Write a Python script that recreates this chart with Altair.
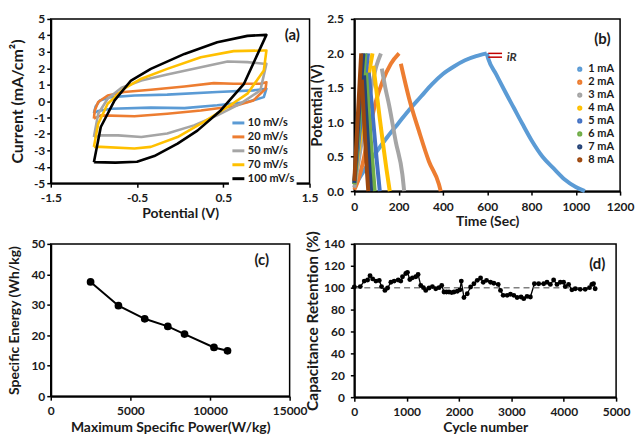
import altair as alt
import pandas as pd

FONT = "Lato"
INK = "#1a1a1a"

# ---------------- (a) cyclic voltammetry ----------------
cv_rates = ["10 mV/s", "20 mV/s", "50 mV/s", "70 mV/s", "100 mV/s"]
cv_colors = ["#5B9BD5", "#ED7D31", "#A5A5A5", "#FFC000", "#000000"]

cv10_v = [-1.0, -0.95, -0.80, -0.34, 0.05, 0.43, 0.78, 0.97, 1.0, 0.85, 0.43, -0.15, -0.53, -0.80, -0.93, -0.98, -1.0]
cv10_i = [-0.73, -0.60, -0.47, -0.40, -0.43, -0.26, -0.06, 0.24, 0.75, 0.65, 0.55, 0.39, 0.34, 0.24, 0.04, -0.33, -0.73]
cv20_v = [-1.0, -0.92, -0.53, -0.15, 0.24, 0.62, 0.85, 0.99, 1.0, 0.93, 0.62, 0.39, 0.05, -0.34, -0.65, -0.84, -0.95, -0.99, -1.0]
cv20_i = [-1.07, -0.87, -0.93, -0.77, -0.57, -0.32, 0.04, 0.75, 1.15, 1.05, 1.05, 1.09, 0.89, 0.69, 0.55, 0.34, -0.06, -0.57, -1.07]
cv50_v = [-1.0, -0.92, -0.72, -0.45, -0.15, 0.16, 0.43, 0.70, 0.93, 1.0, 0.97, 0.78, 0.55, 0.24, -0.15, -0.45, -0.68, -0.84, -0.95, -1.0]
cv50_i = [-2.19, -2.09, -2.09, -2.19, -1.98, -1.48, -0.87, -0.16, 0.65, 2.27, 2.27, 2.37, 2.41, 2.06, 1.62, 1.25, 0.81, 0.14, -0.77, -2.19]
cv70_v = [-1.0, -0.92, -0.53, -0.34, -0.03, 0.24, 0.55, 0.78, 0.97, 1.0, 0.97, 0.62, 0.24, -0.15, -0.45, -0.65, -0.84, -0.95, -1.0]
cv70_i = [-2.79, -2.79, -2.89, -2.79, -2.19, -1.38, -0.36, 0.45, 1.86, 3.08, 3.08, 3.04, 2.67, 1.96, 1.36, 0.75, -0.16, -1.38, -2.79]
cv100_v = [-1.0, -0.75, -0.50, -0.30, -0.03, 0.20, 0.47, 0.74, 1.0, 0.78, 0.43, 0.05, -0.34, -0.57, -0.76, -0.92, -1.0]
cv100_i = [-3.72, -3.75, -3.70, -3.35, -2.59, -1.80, -0.57, 1.05, 4.03, 3.97, 3.58, 2.87, 1.96, 1.25, 0.04, -1.58, -3.72]

# ---------------- (b) charge / discharge ----------------
gcd_labels = ["1 mA", "2 mA", "3 mA", "4 mA", "5 mA", "6 mA", "7 mA", "8 mA"]
gcd_colors = ["#5B9BD5", "#ED7D31", "#A5A5A5", "#FFC000", "#4472C4", "#70AD47", "#264478", "#9E480E"]

b1_ct = [0, 25, 50, 100, 150, 200, 250, 300, 350, 400, 450, 500, 550, 598]
b1_cv = [0.05, 0.20, 0.33, 0.57, 0.79, 0.99, 1.19, 1.37, 1.55, 1.70, 1.81, 1.90, 1.96, 2.00]
b1_dt = [598, 605, 640, 680, 720, 760, 800, 850, 900, 950, 1000, 1041]
b1_dv = [2.00, 1.92, 1.70, 1.45, 1.21, 0.97, 0.74, 0.50, 0.33, 0.17, 0.06, 0.0]
b2_ct = [0, 7, 37, 67, 97, 127, 165, 202]
b2_cv = [0.02, 0.07, 0.39, 0.87, 1.30, 1.59, 1.85, 2.00]
b2_dt = [210, 247, 292, 337, 382, 390]
b2_dv = [1.85, 1.35, 0.87, 0.43, 0.10, 0.0]
b3_ct = [0, 20, 40, 60, 80, 100, 120]
b3_cv = [0.05, 0.45, 0.85, 1.22, 1.55, 1.82, 2.00]
b3_dt = [124, 140, 157, 187, 217, 225]
b3_dv = [1.78, 1.50, 1.25, 0.72, 0.24, 0.0]
b4_ct = [0, 20, 40, 60, 82]
b4_cv = [0.10, 0.62, 1.12, 1.58, 2.00]
b4_dt = [86, 100, 115, 130, 145, 160]
b4_dv = [1.82, 1.45, 1.05, 0.68, 0.32, 0.0]
b5_ct = [0, 15, 30, 45, 62]
b5_cv = [0.10, 0.58, 1.05, 1.52, 2.00]
b5_dt = [65, 78, 90, 102, 115]
b5_dv = [1.72, 1.28, 0.85, 0.42, 0.0]
b6_ct = [0, 12, 25, 38, 50]
b6_cv = [0.10, 0.58, 1.08, 1.56, 2.00]
b6_dt = [53, 63, 73, 83, 92]
b6_dv = [1.72, 1.25, 0.80, 0.38, 0.0]
b7_ct = [0, 10, 20, 30, 41]
b7_cv = [0.12, 0.60, 1.08, 1.55, 2.00]
b7_dt = [44, 52, 60, 68, 76]
b7_dv = [1.68, 1.22, 0.78, 0.36, 0.0]
b8_ct = [0, 8, 16, 24, 31]
b8_cv = [0.15, 0.62, 1.10, 1.58, 2.00]
b8_dt = [34, 42, 50, 57, 63]
b8_dv = [1.62, 1.15, 0.68, 0.28, 0.0]

ir_t1 = [605, 605]
ir_t2 = [667, 667]
ir_v = [2.0, 1.945]
ir_label_t = [688]
ir_label_v = [1.95]

# ---------------- (c) Ragone ----------------
rag_power = [2500, 4250, 5900, 7350, 8400, 10250, 11100]
rag_energy = [37.5, 29.7, 25.4, 22.9, 20.4, 16.0, 14.9]

# ---------------- (d) cycling ----------------
cyc_n = [0, 114, 190, 254, 300, 350, 412, 476, 520, 584, 635, 698, 761, 838, 888, 920, 983, 1015,
         1060, 1110, 1174, 1218, 1269, 1320, 1364, 1428, 1491, 1555, 1618, 1669, 1713, 1760, 1808,
         1860, 1904, 1967, 2018, 2043, 2094, 2157, 2221, 2284, 2348, 2411, 2462, 2525, 2602, 2665,
         2748, 2792, 2843, 2919, 2982, 3046, 3109, 3185, 3236, 3299, 3363, 3439, 3521, 3617, 3680,
         3744, 3807, 3871, 3934, 3997, 4029, 4093, 4156, 4220, 4315, 4410, 4492, 4537, 4569, 4600]
cyc_ret = [100.6, 101, 106, 107, 111, 108, 106, 106.5, 101, 97.5, 99.7, 105, 106, 107, 106, 110, 113, 114,
           107.5, 109, 110, 112, 102, 100, 97.5, 99.7, 101, 99, 100, 102, 96, 96, 96,
           95.5, 96, 96.7, 98, 106, 91, 94.5, 100.6, 103.6, 106.7, 108.8, 105, 106.7, 105, 104,
           103, 97.5, 93, 93, 94, 93, 91, 91.5, 90, 92, 91.5, 103.6, 103.6, 103.6, 105,
           103, 107, 103, 105, 105, 101, 103, 98, 99, 98.5, 98.5, 100, 103, 103.6, 99]
ref_n1 = [0]
ref_n2 = [4600]
ref_level = [100]

# ---------------- panel tags ----------------
tag_a = (1.3, 4.0)
tag_b = (1120, 2.21)
tag_c = (13250, 44.6)
tag_d = (4640, 122)

# ================= build tables =================
rows = []
for rate, vs, cs in zip(cv_rates, [cv10_v, cv20_v, cv50_v, cv70_v, cv100_v],
                        [cv10_i, cv20_i, cv50_i, cv70_i, cv100_i]):
    for k, (v, c) in enumerate(zip(vs, cs)):
        rows.append({"rate": rate, "V": v, "I": c, "k": k})
df_a = pd.DataFrame(rows)

series_b = [(b1_ct, b1_cv, b1_dt, b1_dv), (b2_ct, b2_cv, b2_dt, b2_dv), (b3_ct, b3_cv, b3_dt, b3_dv),
            (b4_ct, b4_cv, b4_dt, b4_dv), (b5_ct, b5_cv, b5_dt, b5_dv), (b6_ct, b6_cv, b6_dt, b6_dv),
            (b7_ct, b7_cv, b7_dt, b7_dv), (b8_ct, b8_cv, b8_dt, b8_dv)]
rows = []
for lab, (ct, cv, dt, dv) in zip(gcd_labels, series_b):
    for t, v in zip(ct, cv):
        rows.append({"cur": lab, "seg": lab + " c", "t": t, "V": v})
    for t, v in zip(dt, dv):
        rows.append({"cur": lab, "seg": lab + " d", "t": t, "V": v})
df_b = pd.DataFrame(rows)
df_ir = pd.DataFrame({"t1": ir_t1, "t2": ir_t2, "V": ir_v})
df_irl = pd.DataFrame({"t": ir_label_t, "V": ir_label_v, "txt": ["iR"]})

df_c = pd.DataFrame({"P": rag_power, "E": rag_energy})
df_d = pd.DataFrame({"n": cyc_n, "R": cyc_ret})
df_ref = pd.DataFrame({"n1": ref_n1, "n2": ref_n2, "R": ref_level})


def tag(label, xy):
    return alt.Chart(pd.DataFrame({"x": [xy[0]], "y": [xy[1]], "t": [label]})).mark_text(
        font=FONT, fontSize=15, fontWeight="bold", color=INK, align="center", baseline="middle"
    ).encode(x=alt.X("x:Q"), y=alt.Y("y:Q"), text="t:N")


AX = dict(labelFont=FONT, labelFontSize=12, labelFontWeight="bold", labelColor=INK,
          titleFont=FONT, titleFontWeight="bold", titleColor=INK,
          grid=False, domainColor="black", domainWidth=2, tickColor="black", tickWidth=1.5, tickSize=4,
          labelOverlap=False, labelFlush=False, tickCount=40)

# ---------- (a) ----------
xa = alt.X("V:Q", scale=alt.Scale(domain=[-1.5, 1.5], nice=False, zero=False),
           axis=alt.Axis(values=[-1.5, -0.5, 0.5, 1.5], labelExpr="'' + datum.value",
                         title="Potential (V)", titleFontSize=14, labelPadding=5, titlePadding=3, **AX))
ya = alt.Y("I:Q", scale=alt.Scale(domain=[-5, 5], nice=False),
           axis=alt.Axis(values=list(range(-5, 6)), labelExpr="'' + datum.value",
                         title="Current (mA/cm²)", titleFontSize=16, labelPadding=2, titlePadding=8, **AX))
a_lines = alt.Chart(df_a).mark_line(strokeWidth=2.6, strokeJoin="round").encode(
    x=xa, y=ya,
    color=alt.Color("rate:N", sort=cv_rates, scale=alt.Scale(domain=cv_rates, range=cv_colors),
                    legend=alt.Legend(orient="none", legendX=179, legendY=95, title=None,
                                      symbolType="stroke", symbolStrokeWidth=3, symbolSize=144,
                                      labelFont=FONT, labelFontSize=11, labelFontWeight="bold",
                                      labelColor=INK, rowPadding=-2.5, labelOffset=2, padding=2,
                                      fillColor="white")),
    order="k:Q",
)
panel_a = alt.layer(a_lines, tag("(a)", tag_a)).properties(width=260, height=165)

# ---------- (b) ----------
xb = alt.X("t:Q", scale=alt.Scale(domain=[0, 1200], nice=False),
           axis=alt.Axis(values=list(range(0, 1201, 200)), format="d", title="Time (Sec)",
                         titleFontSize=14, labelPadding=6, titlePadding=3, **AX))
yb = alt.Y("V:Q", scale=alt.Scale(domain=[0, 2.5], nice=False),
           axis=alt.Axis(values=[0, 0.5, 1.0, 1.5, 2.0, 2.5], format=".1f", title="Potential (V)",
                         titleFontSize=15, labelPadding=7, titlePadding=2, **AX))
b_lines = alt.Chart(df_b).mark_line(strokeWidth=4, interpolate="monotone").encode(
    x=xb, y=yb,
    color=alt.Color("cur:N", sort=gcd_labels, scale=alt.Scale(domain=gcd_labels, range=gcd_colors),
                    legend=alt.Legend(orient="none", legendX=221, legendY=45, title=None,
                                      symbolType="circle", symbolSize=5, symbolStrokeWidth=3,
                                      labelFont=FONT, labelFontSize=11, labelFontWeight="bold",
                                      labelColor=INK, rowPadding=-2.5, labelOffset=3)),
    detail="seg:N",
    order="t:Q",
)
b_ir = alt.Chart(df_ir).mark_rule(color="#C00000", strokeWidth=1.5).encode(
    x=alt.X("t1:Q"), x2="t2:Q", y=alt.Y("V:Q"))
b_irl = alt.Chart(df_irl).mark_text(font=FONT, fontSize=12, fontStyle="italic", fontWeight="bold",
                                    color="#333333", align="left", baseline="middle").encode(
    x=alt.X("t:Q"), y=alt.Y("V:Q"), text="txt:N")
panel_b = alt.layer(b_lines, b_ir, b_irl, tag("(b)", tag_b)).properties(width=267, height=173)

# ---------- (c) ----------
xc = alt.X("P:Q", scale=alt.Scale(domain=[0, 15000], nice=False),
           axis=alt.Axis(values=[0, 5000, 10000, 15000], format="d", title="Maximum Specific Power(W/kg)",
                         titleFontSize=14, labelPadding=5, titlePadding=4, **AX))
yc = alt.Y("E:Q", scale=alt.Scale(domain=[0, 50], nice=False),
           axis=alt.Axis(values=list(range(0, 51, 10)), format="d", title="Specific Energy (Wh/kg)",
                         titleFontSize=14, labelPadding=2, titlePadding=9, **AX))
c_line = alt.Chart(df_c).mark_line(color="black", strokeWidth=2).encode(x=xc, y=yc)
c_pts = alt.Chart(df_c).mark_circle(color="black", size=60, opacity=1).encode(x=xc, y=yc)
c_tag = alt.Chart(pd.DataFrame({"P": [tag_c[0]], "E": [tag_c[1]], "t": ["(c)"]})).mark_text(
    font=FONT, fontSize=15, fontWeight="bold", color=INK).encode(x="P:Q", y="E:Q", text="t:N")
panel_c = alt.layer(c_line, c_pts, c_tag).properties(width=240, height=153)

# ---------- (d) ----------
xd = alt.X("n:Q", scale=alt.Scale(domain=[0, 5000], nice=False),
           axis=alt.Axis(values=list(range(0, 5001, 1000)), format="d", title="Cycle number",
                         titleFontSize=14, labelPadding=5, titlePadding=4, **AX))
yd = alt.Y("R:Q", scale=alt.Scale(domain=[0, 140], nice=False),
           axis=alt.Axis(values=list(range(0, 141, 20)), format="d", title="Capacitance Retention (%)",
                         titleFontSize=15.5, labelPadding=6, titlePadding=3, **AX))
d_ref = alt.Chart(df_ref).mark_rule(color="#7f7f7f", strokeWidth=1.5, strokeDash=[6, 4]).encode(
    x=alt.X("n1:Q"), x2="n2:Q", y=alt.Y("R:Q"))
d_line = alt.Chart(df_d).mark_line(color="black", strokeWidth=1.3).encode(x=xd, y=yd)
d_pts = alt.Chart(df_d).mark_circle(color="black", size=24, opacity=1).encode(x=xd, y=yd)
d_tag = alt.Chart(pd.DataFrame({"n": [tag_d[0]], "R": [tag_d[1]], "t": ["(d)"]})).mark_text(
    font=FONT, fontSize=15, fontWeight="bold", color=INK).encode(x="n:Q", y="R:Q", text="t:N")
panel_d = alt.layer(d_line, d_ref, d_pts, d_tag).properties(width=263, height=154)

chart = alt.concat(
    panel_a, panel_b, panel_c, panel_d,
    columns=2, spacing={"column": 45, "row": 53}, align="each", bounds="flush",
).resolve_scale(color="independent").properties(
    padding={"left": 7, "top": 11, "right": 1, "bottom": 2},
    background="white",
).configure_view(stroke="black", strokeWidth=1.5)

chart.save("out.html", embed_options={"renderer": "svg", "actions": False})
